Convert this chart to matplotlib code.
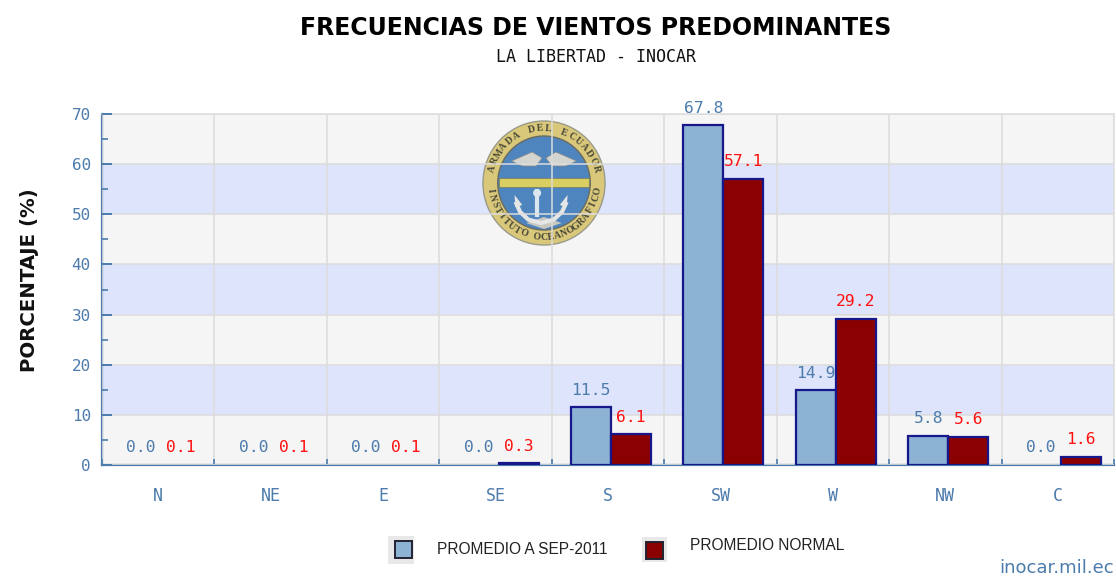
import numpy as np
import matplotlib
matplotlib.use("Agg")
import matplotlib.pyplot as plt
from matplotlib.patches import Circle, Polygon, Rectangle

W, H = 1116, 576

# Data
directions = ["N", "NE", "E", "SE", "S", "SW", "W", "NW", "C"]
promedio_sep = [0.0, 0.0, 0.0, 0.0, 11.5, 67.8, 14.9, 5.8, 0.0]
promedio_normal = [0.1, 0.1, 0.1, 0.3, 6.1, 57.1, 29.2, 5.6, 1.6]
y_ticks = [0, 10, 20, 30, 40, 50, 60, 70]
blue_bands = [(10, 20), (30, 40), (50, 60)]

STEEL = "#4C7BAC"
BAR_EDGE = "#17178C"
BLUE = "#8CB2D4"
RED = "#8B0000"
GRID = "#DCDCDC"


def fx(px):
    return px / W


def fy(py):
    return 1 - py / H


def draw_logo(ax):
    # rough drawing of the institute seal, pixel-like coordinates centred on 0
    ax.set_xlim(-64, 64)
    ax.set_ylim(-64, 64)
    ax.axis("off")
    ax.add_patch(Circle((0, 0), 62, fc="#D9C77A", ec="#9A9A8A", lw=1))
    ax.add_patch(Circle((0, 0), 47, fc="#4E85BE", ec="#6B6B60", lw=1))
    ax.add_patch(Rectangle((-46, -4), 92, 9, fc="#D8CE62", ec="#7A7A50", lw=0.5))
    # wings
    ax.add_patch(Polygon([(-33, 22), (-12, 31), (-2, 25), (-8, 17), (-22, 17)], fc="#D4D4D0", ec="#8A8A8A", lw=0.5))
    ax.add_patch(Polygon([(33, 22), (12, 31), (2, 25), (8, 17), (22, 17)], fc="#D4D4D0", ec="#8A8A8A", lw=0.5))
    # anchor
    ax.plot([-7, -7], [-8, -32], color="#DCE6EE", lw=3)
    ax.add_patch(Circle((-7, -10), 3, fc="none", ec="#DCE6EE", lw=1.5))
    th = np.radians(np.array([195, 215, 240, 270, 300, 325, 345]))
    ax.plot(26 * np.cos(th) - 3, 26 * np.sin(th) - 14, color="#E6E6E6", lw=3)
    ax.add_patch(Polygon([(-30, -12), (-22, -22), (-29, -24)], fc="#E6E6E6", ec="none"))
    ax.add_patch(Polygon([(24, -12), (16, -22), (23, -24)], fc="#E6E6E6", ec="none"))
    ax.add_patch(Polygon([(-18, -40), (0, -34), (18, -40), (0, -46)], fc="#C8C8C0", ec="none"))
    # lettering round the ring
    for word, a0, a1, flip in [("ARMADA DEL ECUADOR", 165, 15, False),
                               ("INSTITUTO OCEANOGRAFICO", 188, 352, True)]:
        angles = np.linspace(a0, a1, len(word))
        for ch, a in zip(word, angles):
            t = np.radians(a)
            rot = a + 90 if flip else a - 90
            ax.text(54.5 * np.cos(t), 54.5 * np.sin(t), ch, family="Liberation Serif", fontsize=7,
                    color="#4A4A3A", ha="center", va="center", rotation=rot, fontweight="bold")


plt.rcParams["font.family"] = "DejaVu Sans"
fig = plt.figure(figsize=(W / 100, H / 100), dpi=100, facecolor="white")
ax = fig.add_axes([fx(102), fy(465), 1012 / W, 351 / H])

ax.set_facecolor("#F5F5F5")
ax.set_xlim(0, 9)
ax.set_ylim(0, 70)
for lo, hi in blue_bands:
    ax.axhspan(lo, hi, color="#DDE4FB", lw=0, zorder=0)

# seal sits over the bands, under the grid
logo = ax.inset_axes([(481 - 102) / 1012, (465 - 247) / 351, 126 / 1012, 128 / 351], zorder=1)
draw_logo(logo)

x = np.arange(len(directions)) + 0.527
bar_w = 40 / 112.4
for vals, off, col, txt in [(promedio_sep, -bar_w / 2, BLUE, STEEL),
                            (promedio_normal, bar_w / 2, RED, "#FF1010")]:
    for xi, v in zip(x, vals):
        if v >= 0.3:
            ax.bar(xi + off, v, bar_w, color=col, edgecolor=BAR_EDGE, linewidth=1.6, zorder=3)
        ax.annotate(f"{v:.1f}", (xi + off, v), xytext=(0, 17), textcoords="offset pixels",
                    ha="center", va="center", family="DejaVu Sans Mono", fontsize=11.8,
                    color=txt, zorder=4, annotation_clip=False)

ax.set_axisbelow(False)
ax.set_yticks(y_ticks)
ax.set_yticks(np.array(y_ticks[:-1]) + 5, minor=True)
ax.set_xticks(np.arange(0, 10))
ax.set_xticklabels([])
ax.set_xticks(np.arange(len(directions)) + 0.5, minor=True)
ax.set_xticklabels(directions, minor=True, family="DejaVu Sans Mono", fontsize=12, color=STEEL)
ax.grid(True, which="major", color=GRID, lw=1.1)

ax.tick_params(axis="y", which="major", direction="in", length=7, width=1.4, color=STEEL,
               labelcolor=STEEL, labelsize=11.5, pad=8)
ax.tick_params(axis="y", which="minor", direction="in", length=4, width=1.2, color=STEEL)
ax.tick_params(axis="x", which="major", direction="in", length=4, width=1.2, color=STEEL)
ax.tick_params(axis="x", which="minor", length=0, pad=16)
for lab in ax.get_yticklabels():
    lab.set_family("DejaVu Sans Mono")

for side, sp in ax.spines.items():
    if side in ("left", "bottom"):
        sp.set_color(STEEL)
        sp.set_linewidth(1.6)
    else:
        sp.set_color(GRID)
        sp.set_linewidth(1.1)

fig.text(fx(596), fy(28), "FRECUENCIAS DE VIENTOS PREDOMINANTES", ha="center", va="center",
         fontsize=17, fontweight="bold", color="black")
fig.text(fx(596), fy(57), "LA LIBERTAD - INOCAR", ha="center", va="center",
         family="DejaVu Sans Mono", fontsize=12, color="#111111")
fig.text(fx(30), fy(280), "PORCENTAJE (%)", rotation=90, ha="center", va="center",
         fontsize=14.2, fontweight="bold", color="#111111")

# legend, placed by hand as in the original
for x0, y0, w, h, col in [(388, 536, 26, 28, "#E8E8E8"), (642, 537, 25, 25, "#E8E8E8")]:
    fig.add_artist(Rectangle((fx(x0), fy(y0 + h)), w / W, h / H, transform=fig.transFigure, fc=col, ec="none"))
for x0, y0, col in [(395, 541, BLUE), (646, 542, RED)]:
    fig.add_artist(Rectangle((fx(x0), fy(y0 + 17)), 17 / W, 17 / H, transform=fig.transFigure,
                             fc=col, ec="#222233", lw=1.4))
fig.text(fx(437), fy(549), "PROMEDIO A SEP-2011", ha="left", va="center",
         family="Liberation Sans", fontsize=11.2, color="#222222")
fig.text(fx(690), fy(546), "PROMEDIO NORMAL", ha="left", va="center",
         family="Liberation Sans", fontsize=11.2, color="#222222")
fig.text(fx(1114), fy(568), "inocar.mil.ec", ha="right", va="center", fontsize=13, color=STEEL)

fig.savefig("out.png", dpi=100)
